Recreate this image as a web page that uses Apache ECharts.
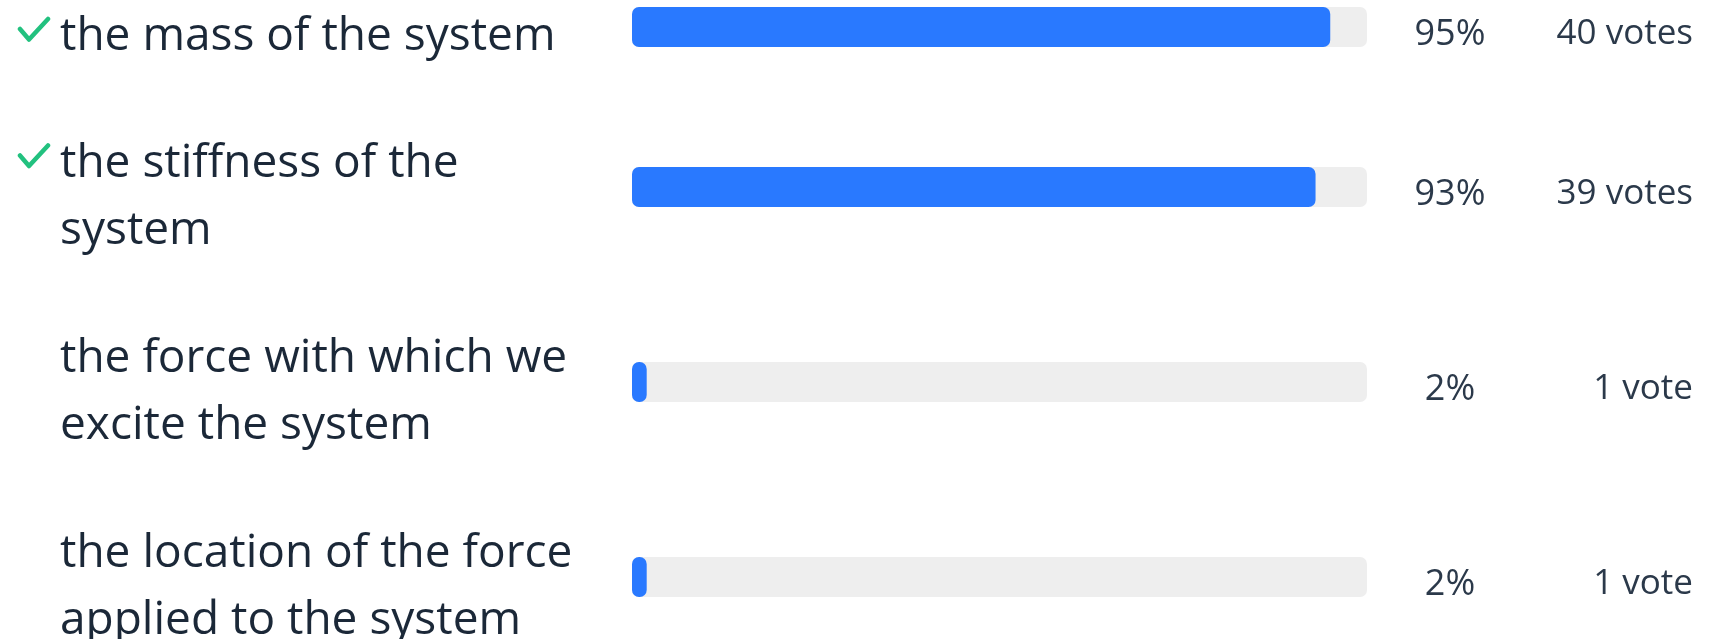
<!DOCTYPE html>
<html>
<head>
<meta charset="utf-8">
<script src="https://cdn.jsdelivr.net/npm/echarts@6/dist/echarts.min.js"></script>
<style>
  html, body { margin: 0; padding: 0; background: #ffffff; }
  #chart { width: 1709px; height: 639px; }
</style>
</head>
<body>
<div id="chart"></div>
<script>
// ---- data ----
const categories = [
  'the mass of the system',
  'the stiffness of the\nsystem',
  'the force with which we\nexcite the system',
  'the location of the force\napplied to the system'
];
const percents = [95, 93, 2, 2];
const votes = [40, 39, 1, 1];
const correct = [true, true, false, false];

// ---- layout ----
const rowTops = [7, 167, 362, 557];
const barH = 40;
const gridLeft = 632, gridRight = 342;

const checkSvg = '<svg xmlns="http://www.w3.org/2000/svg" width="34" height="42" viewBox="0 0 34 42">' +
  '<polyline points="3,13 12,23.5 31,3" fill="none" stroke="#22c17f" stroke-width="4.5" stroke-linecap="round" stroke-linejoin="round"/></svg>';
const checkUri = 'data:image/svg+xml;charset=utf-8,' + encodeURIComponent(checkSvg);

const labelFont = "'Open Sans', 'Noto Sans', sans-serif";
const grids = [], xAxes = [], yAxes = [], series = [];

categories.forEach((cat, i) => {
  grids.push({ left: gridLeft, right: gridRight, top: rowTops[i], height: barH,
    containLabel: false, outerBoundsMode: 'none' });
  xAxes.push({ gridIndex: i, type: 'value', min: 0, max: 100, show: false });
  yAxes.push({
    gridIndex: i, type: 'category', data: [cat], position: 'left',
    axisLine: { show: false }, axisTick: { show: false }, splitLine: { show: false },
    axisLabel: {
      align: 'left', margin: gridLeft - 17, padding: [20, 0, 0, 0],
      formatter: (val) => val.split('\n').map((l, j) =>
        (j === 0 && correct[i] ? '{chk| }' : '{sp| }') + '{g| }{lbl|' + l + '}').join('\n'),
      rich: {
        chk: { width: 34, height: 42, backgroundColor: { image: checkUri }, lineHeight: 67 },
        sp: { width: 34, lineHeight: 67 },
        g: { width: 9, lineHeight: 67 },
        lbl: { fontSize: 46, fontFamily: labelFont, color: '#1b2838', lineHeight: 67 }
      }
    }
  });
  yAxes.push({
    gridIndex: i, type: 'category', data: [cat], position: 'right',
    axisLine: { show: false }, axisTick: { show: false }, splitLine: { show: false },
    axisLabel: {
      align: 'left', margin: 33, padding: [15, 0, 0, 0],
      formatter: () => '{pct|' + percents[i] + '%}{v|' + votes[i] + (votes[i] === 1 ? ' vote' : ' votes') + '}',
      rich: {
        pct: { width: 100, align: 'center', fontSize: 36, fontFamily: labelFont, color: '#2b394a' },
        v: { width: 193, align: 'right', fontSize: 35, fontFamily: labelFont, color: '#2b394a' }
      }
    }
  });
  series.push({
    type: 'bar', xAxisIndex: i, yAxisIndex: 2 * i,
    data: [percents[i]], barWidth: barH,
    showBackground: true,
    backgroundStyle: { color: '#eeeeee', borderRadius: 7 },
    itemStyle: { color: '#2979ff', borderRadius: 7 },
    silent: true, animation: false
  });
});

const chart = echarts.init(document.getElementById('chart'), null, { renderer: 'canvas' });
chart.setOption({
  animation: false,
  backgroundColor: '#ffffff',
  grid: grids, xAxis: xAxes, yAxis: yAxes, series: series
});
</script>
</body>
</html>
